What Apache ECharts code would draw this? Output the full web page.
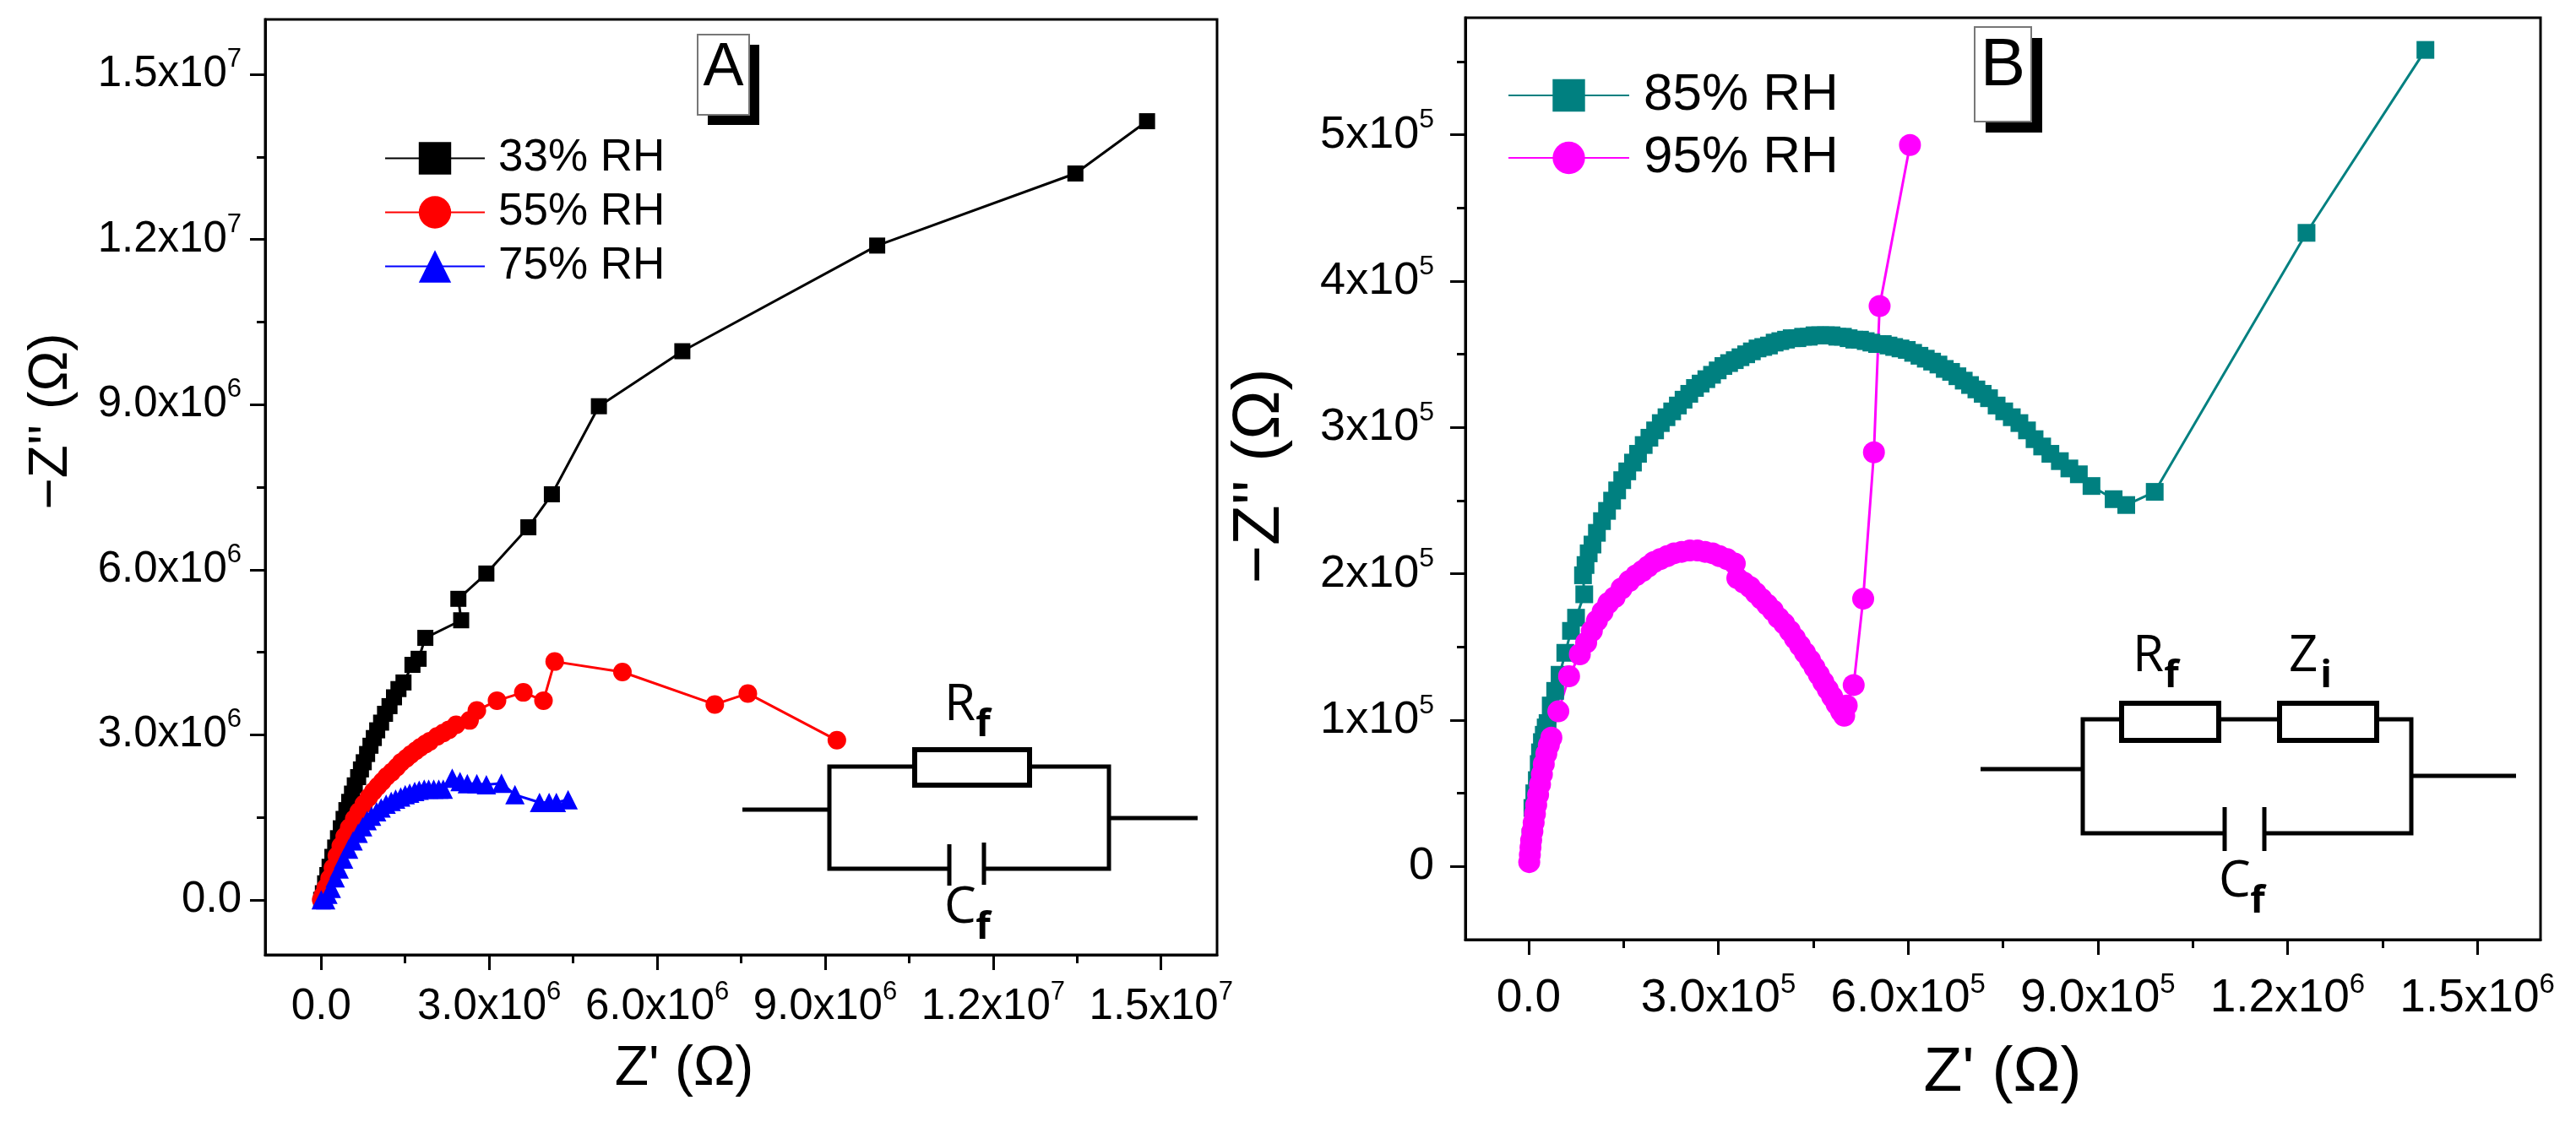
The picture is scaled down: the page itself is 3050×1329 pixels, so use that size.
<!DOCTYPE html>
<html>
<head>
<meta charset="utf-8">
<script src="https://cdn.jsdelivr.net/npm/echarts@6/dist/echarts.min.js"></script>
<style>
  html, body { margin: 0; padding: 0; background: #fff; }
  #chart { width: 3050px; height: 1329px; }
</style>
</head>
<body>
<div id="chart"></div>
<script>
// ——— panel A data: Z' (Ω), -Z'' (Ω) ———
const rh33 = [
  [0, 0], [30e3, 0.12e6], [70e3, 0.30e6], [110e3, 0.45e6], [150e3, 0.60e6], [200e3, 0.78e6],
  [250e3, 0.95e6], [300e3, 1.12e6], [350e3, 1.30e6], [400e3, 1.47e6], [450e3, 1.63e6],
  [500e3, 1.78e6], [550e3, 1.93e6], [600e3, 2.08e6], [660e3, 2.23e6], [710e3, 2.37e6],
  [760e3, 2.50e6], [820e3, 2.65e6], [880e3, 2.80e6], [940e3, 2.94e6], [1.00e6, 3.08e6],
  [1.07e6, 3.22e6], [1.14e6, 3.38e6], [1.22e6, 3.52e6], [1.30e6, 3.68e6], [1.38e6, 3.83e6],
  [1.47e6, 3.95e6], [1.63e6, 4.27e6], [1.74e6, 4.38e6], [1.86e6, 4.76e6], [2.50e6, 5.08e6],
  [2.45e6, 5.47e6], [2.95e6, 5.93e6], [3.70e6, 6.77e6], [4.12e6, 7.37e6], [4.96e6, 8.97e6],
  [6.45e6, 9.97e6], [9.93e6, 1.189e7], [1.347e7, 1.320e7], [1.475e7, 1.415e7]
];
const rh55 = [
  [0, 0], [30e3, 0.08e6], [80e3, 0.22e6], [150e3, 0.39e6], [210e3, 0.58e6], [280e3, 0.80e6],
  [350e3, 0.98e6], [420e3, 1.15e6], [500e3, 1.31e6], [590e3, 1.47e6], [670e3, 1.60e6],
  [760e3, 1.74e6], [850e3, 1.86e6], [930e3, 1.97e6], [1.01e6, 2.06e6], [1.09e6, 2.15e6],
  [1.17e6, 2.24e6], [1.26e6, 2.32e6], [1.35e6, 2.41e6], [1.43e6, 2.50e6], [1.52e6, 2.57e6],
  [1.60e6, 2.64e6], [1.69e6, 2.71e6], [1.77e6, 2.77e6], [1.86e6, 2.83e6], [1.94e6, 2.88e6],
  [2.07e6, 2.97e6], [2.18e6, 3.03e6], [2.28e6, 3.09e6], [2.41e6, 3.18e6], [2.65e6, 3.26e6],
  [2.78e6, 3.44e6], [3.14e6, 3.62e6], [3.61e6, 3.77e6], [3.97e6, 3.62e6], [4.17e6, 4.33e6],
  [5.38e6, 4.14e6], [7.03e6, 3.55e6], [7.62e6, 3.75e6], [9.21e6, 2.90e6]
];
const rh75 = [
  [0, 0], [80e3, 0], [120e3, 0.10e6], [180e3, 0.21e6], [250e3, 0.40e6], [320e3, 0.56e6],
  [400e3, 0.74e6], [490e3, 0.92e6], [570e3, 1.07e6], [660e3, 1.21e6], [740e3, 1.33e6],
  [820e3, 1.44e6], [900e3, 1.52e6], [990e3, 1.60e6], [1.07e6, 1.67e6], [1.16e6, 1.74e6],
  [1.25e6, 1.79e6], [1.33e6, 1.83e6], [1.42e6, 1.87e6], [1.50e6, 1.91e6], [1.58e6, 1.94e6],
  [1.67e6, 1.97e6], [1.75e6, 1.99e6], [1.84e6, 2.01e6], [1.92e6, 2.01e6], [2.01e6, 2.01e6],
  [2.10e6, 2.01e6], [2.18e6, 2.01e6], [2.34e6, 2.21e6], [2.48e6, 2.15e6], [2.61e6, 2.11e6],
  [2.78e6, 2.11e6], [2.95e6, 2.09e6], [3.22e6, 2.12e6], [3.46e6, 1.91e6], [3.90e6, 1.77e6],
  [4.07e6, 1.77e6], [4.20e6, 1.77e6], [4.41e6, 1.82e6]
];

// ——— panel B data ———
const rh85 = [
  [1e3, 5e3], [3e3, 20e3], [6e3, 40e3], [9e3, 50e3], [13e3, 59e3], [16e3, 70e3], [18e3, 78e3],
  [21e3, 85e3], [24e3, 90e3], [27e3, 95e3], [30e3, 98e3], [35e3, 110e3], [42e3, 120e3],
  [49e3, 131e3], [58e3, 146e3], [67e3, 161e3], [75e3, 170e3], [88e3, 186e3], [86e3, 199e3],
  [90e3, 206e3], [95e3, 214e3], [101e3, 220e3], [108e3, 228e3], [116e3, 236e3], [124e3, 243e3],
  [132e3, 250e3], [140e3, 257e3], [148e3, 264e3], [156e3, 270e3], [165e3, 276e3], [173e3, 282e3],
  [182e3, 288e3], [191e3, 293e3], [200e3, 298e3], [209e3, 303e3], [218e3, 307e3], [227e3, 311e3],
  [236e3, 315e3], [245e3, 319e3], [254e3, 323e3], [263e3, 327e3], [272e3, 330e3], [281e3, 333e3],
  [290e3, 336e3], [299e3, 339e3], [308e3, 342e3], [317e3, 344e3], [326e3, 346e3], [335e3, 348e3],
  [344e3, 350e3], [353e3, 352e3], [362e3, 354e3], [371e3, 355e3], [380e3, 356e3], [389e3, 358e3],
  [398e3, 359e3], [407e3, 360e3], [416e3, 361e3], [425e3, 361e3], [434e3, 362e3], [443e3, 362e3],
  [452e3, 363e3], [461e3, 363e3], [470e3, 363e3], [479e3, 363e3], [488e3, 362e3], [497e3, 362e3],
  [506e3, 361e3], [515e3, 360e3], [524e3, 360e3], [533e3, 359e3], [542e3, 358e3], [551e3, 357e3],
  [560e3, 357e3], [569e3, 356e3], [578e3, 355e3], [588e3, 354e3], [598e3, 353e3], [608e3, 351e3],
  [618e3, 349e3], [628e3, 347e3], [638e3, 345e3], [648e3, 343e3], [658e3, 340e3], [668e3, 338e3],
  [678e3, 335e3], [688e3, 332e3], [698e3, 329e3], [708e3, 326e3], [718e3, 323e3], [728e3, 320e3],
  [740e3, 315e3], [752e3, 311e3], [764e3, 307e3], [776e3, 303e3], [788e3, 298e3], [800e3, 292e3],
  [812e3, 287e3], [825e3, 282e3], [840e3, 277e3], [855e3, 272e3], [870e3, 268e3], [890e3, 260e3],
  [925e3, 251e3], [945e3, 247e3], [990e3, 256e3], [1.23e6, 433e3], [1.418e6, 558e3]
];
const rh95 = [
  [1e3, 3e3], [2e3, 8e3], [3e3, 13e3], [4e3, 18e3], [6e3, 24e3], [8e3, 30e3], [10e3, 36e3],
  [12e3, 42e3], [15e3, 49e3], [18e3, 56e3], [21e3, 63e3], [24e3, 70e3], [28e3, 77e3],
  [32e3, 83e3], [36e3, 88e3], [47e3, 106e3], [64e3, 130e3], [81e3, 145e3], [91e3, 153e3],
  [100e3, 161e3], [108e3, 168e3], [117e3, 174e3], [126e3, 180e3], [136e3, 184e3], [147e3, 190e3],
  [159e3, 195e3], [170e3, 199e3], [180e3, 202e3], [189e3, 205e3], [198e3, 208e3], [208e3, 210e3],
  [219e3, 212e3], [230e3, 214e3], [242e3, 215e3], [255e3, 216e3], [267e3, 216e3], [279e3, 215e3],
  [291e3, 214e3], [302e3, 212e3], [314e3, 210e3], [326e3, 207e3], [330e3, 197e3], [340e3, 194e3],
  [350e3, 191e3], [359e3, 187e3], [368e3, 183e3], [377e3, 179e3], [386e3, 175e3], [395e3, 170e3],
  [404e3, 166e3], [413e3, 161e3], [421e3, 156e3], [429e3, 151e3], [437e3, 146e3], [445e3, 141e3],
  [452e3, 136e3], [459e3, 131e3], [466e3, 126e3], [473e3, 121e3], [480e3, 116e3], [487e3, 111e3],
  [494e3, 106e3], [499e3, 103e3], [503e3, 110e3], [514e3, 124e3], [529e3, 183e3], [546e3, 283e3],
  [555e3, 383e3], [603e3, 493e3]
];

// ——— ticks ———
const aMajor = [0, 3e6, 6e6, 9e6, 1.2e7, 1.5e7];
const aMinor = [1.5e6, 4.5e6, 7.5e6, 1.05e7, 1.35e7];
const bxMajor = [0, 3e5, 6e5, 9e5, 1.2e6, 1.5e6];
const bxMinor = [1.5e5, 4.5e5, 7.5e5, 1.05e6, 1.35e6];
const byMajor = [0, 1e5, 2e5, 3e5, 4e5, 5e5];
const byMinor = [5e4, 1.5e5, 2.5e5, 3.5e5, 4.5e5, 5.5e5];

const FONT = '"Liberation Sans", Arial, sans-serif';
const CFONT = '"Open Sans", "Noto Sans", sans-serif';

// 科学计数标签 3.0x10^6
const sci = digits => v => {
  if (v === 0) return '{m|' + (digits ? '0.0' : '0') + '}';
  const e = Math.floor(Math.log10(Math.abs(v)) + 1e-9);
  return '{m|' + (v / Math.pow(10, e)).toFixed(digits) + 'x10}{s|' + e + '}';
};
const rich = size => ({
  m: { fontSize: size, lineHeight: 66, fontFamily: FONT, color: '#000' },
  s: { fontSize: Math.round(size * 0.6), lineHeight: 30, verticalAlign: 'top', fontFamily: FONT, color: '#000' }
});

function majorAxis(grid, min, max, ticks, fmt, size, margin, pos) {
  return {
    type: 'value', gridIndex: grid, min, max, position: pos,
    axisLine: { show: true, onZero: false, lineStyle: { color: '#000', width: 3 } },
    axisTick: { show: true, customValues: ticks, length: 18, lineStyle: { color: '#000', width: 3 } },
    axisLabel: { customValues: ticks, formatter: fmt, margin, rich: rich(size) },
    splitLine: { show: false }
  };
}
function minorAxis(grid, min, max, ticks, pos) {
  return {
    type: 'value', gridIndex: grid, min, max, position: pos,
    axisLine: { show: false, onZero: false },
    axisTick: { show: true, customValues: ticks, length: 10, lineStyle: { color: '#000', width: 3 } },
    axisLabel: { show: false },
    splitLine: { show: false }
  };
}

// ——— circuit / annotation helpers ———
const wire = pts => ({ type: 'polyline', shape: { points: pts }, style: { stroke: '#000', lineWidth: 5, fill: null }, z: 50 });
const resistor = (x, y, w, h) => ({ type: 'rect', shape: { x, y, width: w, height: h }, style: { stroke: '#000', lineWidth: 6, fill: '#fff' }, z: 51 });
const txt = (x, y, text, size, family, extra) => ({
  type: 'text', x, y, z: 52,
  style: Object.assign({ text, fontSize: size, fontFamily: family, fill: '#000', align: 'center', verticalAlign: 'middle' }, extra || {})
});
const label = (x, y, main, sub, size) => [
  txt(x, y, main, size, CFONT, { align: 'left', verticalAlign: 'bottom' }),
  txt(x + size * 0.62, y + 16, sub, Math.round(size * 0.75), CFONT, { align: 'left', verticalAlign: 'bottom', fontWeight: 'bold' })
];
const letterBox = (x, y, w, h, off, letter, size) => [
  { type: 'rect', shape: { x: x + off, y: y + off, width: w, height: h }, style: { fill: '#000' }, z: 50 },
  { type: 'rect', shape: { x, y, width: w, height: h }, style: { fill: '#fff', stroke: '#777', lineWidth: 2 }, z: 51 },
  txt(x + w / 2, y + h * 0.42, letter, size, FONT)
];

const graphics = [].concat(
  // circuit A
  wire([[879, 959], [982, 959]]),
  wire([[1313, 969], [1418, 969]]),
  wire([[1083, 908], [982, 908], [982, 1029], [1124, 1029]]),
  wire([[1165, 1029], [1313, 1029], [1313, 908], [1219, 908]]),
  wire([[1124, 1000], [1124, 1049]]),
  wire([[1165, 998], [1165, 1048]]),
  resistor(1083, 888, 136, 42),
  label(1118, 866, 'R', 'f', 60),
  label(1118, 1106, 'C', 'f', 60),
  // circuit B
  wire([[2345, 911], [2466, 911]]),
  wire([[2855, 919], [2979, 919]]),
  wire([[2512, 852], [2466, 852], [2466, 987], [2634, 987]]),
  wire([[2681, 987], [2855, 987], [2855, 852], [2814, 852]]),
  wire([[2627, 852], [2699, 852]]),
  wire([[2634, 956], [2634, 1008]]),
  wire([[2681, 956], [2681, 1008]]),
  resistor(2512, 833, 115, 44),
  resistor(2699, 833, 115, 44),
  label(2525, 808, 'R', 'f', 60),
  label(2710, 808, 'Z', 'i', 60),
  label(2627, 1075, 'C', 'f', 60),
  // panel letters
  letterBox(826, 41, 61, 95, 12, 'A', 72),
  letterBox(2338, 32, 67, 112, 13, 'B', 80),
  // axis titles
  txt(810, 1267, "Z' (Ω)", 66, FONT),
  txt(61, 499, "−Z'' (Ω)", 64, FONT, {}),
  txt(2371, 1271, "Z' (Ω)", 75, FONT),
  txt(1492, 564, "−Z'' (Ω)", 78, FONT, {})
);
// rotate the y titles
graphics.forEach(g => {
  if (g.type === 'text' && g.style.text === "−Z'' (Ω)") g.rotation = Math.PI / 2;
});

const chart = echarts.init(document.getElementById('chart'));
chart.setOption({
  animation: false,
  backgroundColor: '#fff',
  grid: [
    { left: 314, top: 23, width: 1127, height: 1108, show: true, borderColor: '#000', borderWidth: 3 },
    { left: 1735, top: 21, width: 1273, height: 1092, show: true, borderColor: '#000', borderWidth: 3 }
  ],
  xAxis: [
    majorAxis(0, -1e6, 1.6e7, aMajor, sci(1), 51, 29, 'bottom'),
    minorAxis(0, -1e6, 1.6e7, aMinor, 'bottom'),
    majorAxis(1, -1e5, 1.6e6, bxMajor, sci(1), 55, 37, 'bottom'),
    minorAxis(1, -1e5, 1.6e6, bxMinor, 'bottom')
  ],
  yAxis: [
    majorAxis(0, -1e6, 1.6e7, aMajor, sci(1), 51, 28, 'left'),
    minorAxis(0, -1e6, 1.6e7, aMinor, 'left'),
    majorAxis(1, -5e4, 5.8e5, byMajor, sci(0), 54, 37, 'left'),
    minorAxis(1, -5e4, 5.8e5, byMinor, 'left')
  ],
  legend: [
    {
      data: ['33% RH', '55% RH', '75% RH'], orient: 'vertical', left: 450, top: 156,
      itemWidth: 118, itemHeight: 48, itemGap: 11,
      textStyle: { fontSize: 53, lineHeight: 53, fontFamily: FONT, color: '#000', padding: [0, 0, 0, 11] }
    },
    {
      data: ['85% RH', '95% RH'], orient: 'vertical', left: 1780, top: 76,
      itemWidth: 143, itemHeight: 48, itemGap: 10,
      textStyle: { fontSize: 62, lineHeight: 64, fontFamily: FONT, color: '#000', padding: [0, 0, 0, 12] }
    }
  ],
  series: [
    { name: '33% RH', type: 'line', xAxisIndex: 0, yAxisIndex: 0, data: rh33, symbol: 'rect', symbolSize: 19,
      itemStyle: { color: '#000' }, lineStyle: { color: '#000', width: 3 } },
    { name: '55% RH', type: 'line', xAxisIndex: 0, yAxisIndex: 0, data: rh55, symbol: 'circle', symbolSize: 22,
      itemStyle: { color: '#ff0000' }, lineStyle: { color: '#ff0000', width: 3 } },
    { name: '75% RH', type: 'line', xAxisIndex: 0, yAxisIndex: 0, data: rh75, symbol: 'triangle', symbolSize: 23,
      itemStyle: { color: '#0000ff' }, lineStyle: { color: '#0000ff', width: 3 } },
    { name: '85% RH', type: 'line', xAxisIndex: 2, yAxisIndex: 2, data: rh85, symbol: 'rect', symbolSize: 21,
      itemStyle: { color: '#008080' }, lineStyle: { color: '#008080', width: 3 } },
    { name: '95% RH', type: 'line', xAxisIndex: 2, yAxisIndex: 2, data: rh95, symbol: 'circle', symbolSize: 26,
      itemStyle: { color: '#ff00ff' }, lineStyle: { color: '#ff00ff', width: 3 } }
  ],
  graphic: graphics
});
</script>
</body>
</html>
